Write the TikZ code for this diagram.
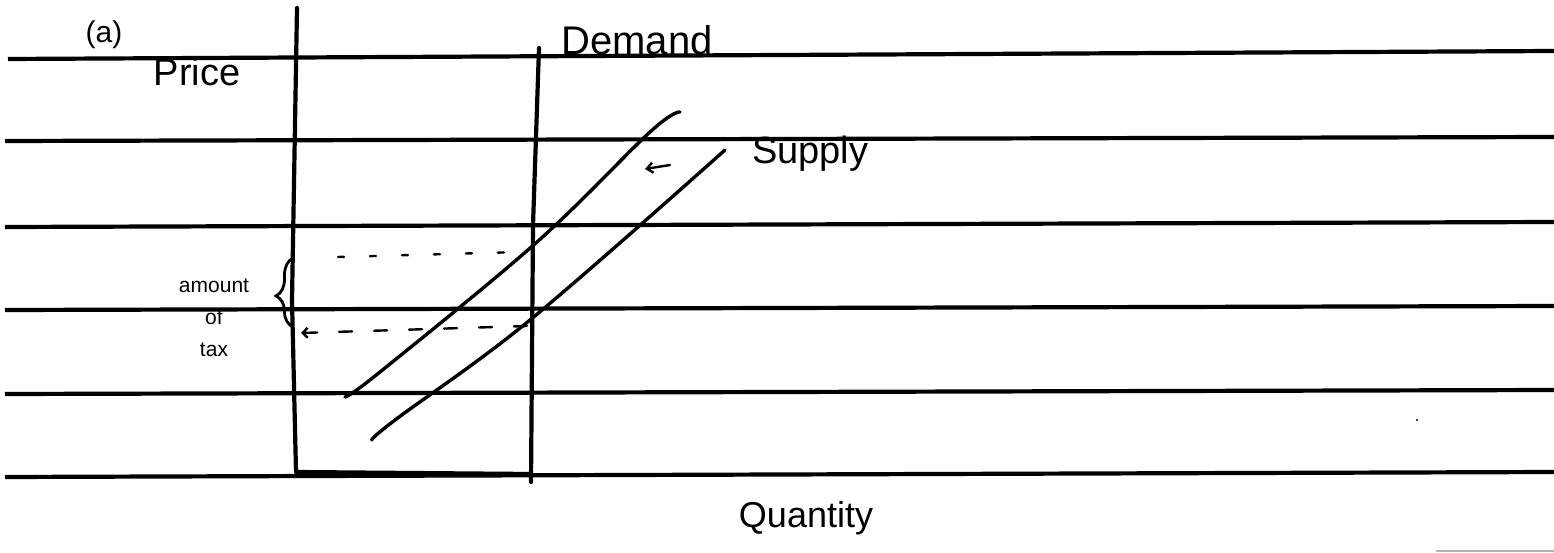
\documentclass[tikz,border=0pt]{standalone}
\usepackage{fontspec}
\setmainfont{Liberation Sans}
\usetikzlibrary{decorations.pathreplacing,arrows.meta}
\begin{document}
\begin{tikzpicture}[x=1pt,y=-1pt,
  rule/.style={line width=4.2pt},
  axis/.style={line width=4.2pt, line cap=round, line join=round},
  curve/.style={line width=3.4pt, line cap=round},
  guide/.style={line width=2.4pt, line cap=round},
  hand/.style={inner sep=0pt, font=\fontsize{#1}{#1}\selectfont},
  note/.style={inner sep=0pt, align=center, font=\fontsize{21}{32}\selectfont}]
\useasboundingbox (0,0) rectangle (1554,553);
% ruled lines
\draw[rule] (8,59) -- (1554,51);
\draw[rule] (5,141) -- (1554,137);
\draw[rule] (5,227) -- (1554,222);
\draw[rule] (5,310) -- (1554,306);
\draw[rule] (5,394) -- (1554,390);
\draw[rule] (5,477) -- (1554,472);
% axes
\coordinate (ptop) at (297,8);
\coordinate (pmid) at (292,300);
\coordinate (pbot) at (296,472);
\coordinate (qend) at (531,474);
\draw[axis] (ptop) -- (pmid) -- (pbot) -- (qend);
\coordinate (dtop) at (539,48);
\coordinate (dmid) at (533,225);
\coordinate (dbot) at (531,482);
\draw[axis] (dtop) -- (dmid) -- (dbot);
% supply curves
\draw[curve] plot[smooth, tension=0.6] coordinates {(345,397) (380,372) (537,242) (650,132) (680,112)};
\draw[curve] plot[smooth, tension=0.6] coordinates {(372,440) (395,420) (530,320) (725,150)};
% shift arrow
\coordinate (sha) at (670,165);
\coordinate (shb) at (645,169);
\draw[guide,-{Straight Barb[length=6pt,width=10pt]}] (sha) -- (shb);
% price guides
\coordinate (g1a) at (338,257);
\coordinate (g1b) at (520,252);
\draw[guide, dash pattern=on 6pt off 26pt] (g1a) -- (g1b);
\coordinate (g2a) at (527,326);
\coordinate (g2b) at (301,333);
\draw[guide, dash pattern=on 13pt off 22pt, -{Straight Barb[length=5pt,width=10pt]}] (g2a) -- (g2b);
% brace
\coordinate (bb) at (293,327);
\coordinate (bt) at (293,258);
\draw[guide, line width=2.8pt, decorate, decoration={brace, amplitude=17pt, aspect=0.45}] (bb) -- (bt);
% labels
\node[hand=30] (lbla) at (104,35) {(a)};
\node[hand=38] (price) at (197,72) {Price};
\node[hand=40] (demand) at (637,40) {Demand};
\node[hand=38, anchor=base west] (supply) at (752,164) {Supply};
\node[hand=36] (qty) at (806,518) {Quantity};
\node[note] (tax) at (214,318) {amount\\of\\tax};
% specks
\fill (1417,420) circle (1.2pt);
\draw[gray!60, line width=1.2pt] (1436,551) -- (1554,551);
\end{tikzpicture}
\end{document}
